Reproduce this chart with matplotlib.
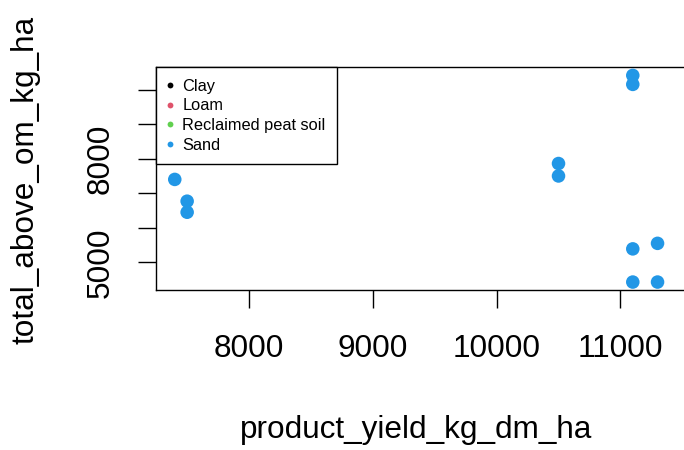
import matplotlib
matplotlib.use('Agg')
import matplotlib.pyplot as plt
from matplotlib.lines import Line2D

# data
product_yield = [7400, 7500, 7500, 10500, 10500, 11100, 11100, 11100, 11100, 11300, 11300]
total_above_om = [7400, 6770, 6450, 7860, 7500, 10410, 10150, 5390, 4430, 5550, 4430]
soil = ['Sand'] * len(product_yield)

soil_levels = ['Clay', 'Loam', 'Reclaimed peat soil', 'Sand']
soil_colors = {'Clay': '#000000', 'Loam': '#DF536B',
               'Reclaimed peat soil': '#61D04F', 'Sand': '#2297E6'}

y_ticks = [5000, 6000, 7000, 8000, 9000, 10000]
y_ticklabels = ['5000', '', '', '8000', '', '']
x_ticks = [8000, 9000, 10000, 11000]

plt.rcParams['font.family'] = ['Liberation Sans', 'DejaVu Sans']

W, H = 684, 450
fig = plt.figure(figsize=(W / 100, H / 100), dpi=100)
ax = fig.add_axes([155.7 / W, 1 - 290 / H, (700 - 155.7) / W, (290 - 67) / H])

cols = [soil_colors[s] for s in soil]
ax.scatter(product_yield, total_above_om, s=95, c=cols, linewidths=0, zorder=3)

ax.set_xlim(7246, 11643)
ax.set_ylim(4200, 10653)
ax.set_xticks(x_ticks)
ax.set_xticklabels([str(v) for v in x_ticks])
ax.set_yticks(y_ticks)
ax.set_yticklabels(y_ticklabels, rotation=90, va='center')

fs = 22.7
ax.tick_params(axis='both', length=13, width=1.0, labelsize=fs, color='black')
ax.tick_params(axis='x', pad=19)
ax.tick_params(axis='y', pad=16)
for sp in ax.spines.values():
  sp.set_linewidth(1.0)
  sp.set_color('black')

fig.text(415.7 / W, 1 - 430 / H, 'product_yield_kg_dm_ha', fontsize=fs,
         ha='center', va='center')
fig.text(26 / W, 1 - 180 / H, 'total_above_om_kg_ha', fontsize=fs,
         ha='center', va='center', rotation=90)

handles = [Line2D([], [], linestyle='none', marker='o', markersize=4.2,
                  markerfacecolor=soil_colors[s], markeredgewidth=0)
           for s in soil_levels]
leg = ax.legend(handles, soil_levels, loc='upper left', fontsize=11.8,
                frameon=True, fancybox=False, borderaxespad=0,
                handlelength=0.35, handletextpad=0.55, labelspacing=0.28,
                borderpad=0.72)
leg.get_frame().set_edgecolor('black')
leg.get_frame().set_linewidth(1.0)
leg.get_frame().set_alpha(1.0)

fig.savefig('out.png', dpi=100)
